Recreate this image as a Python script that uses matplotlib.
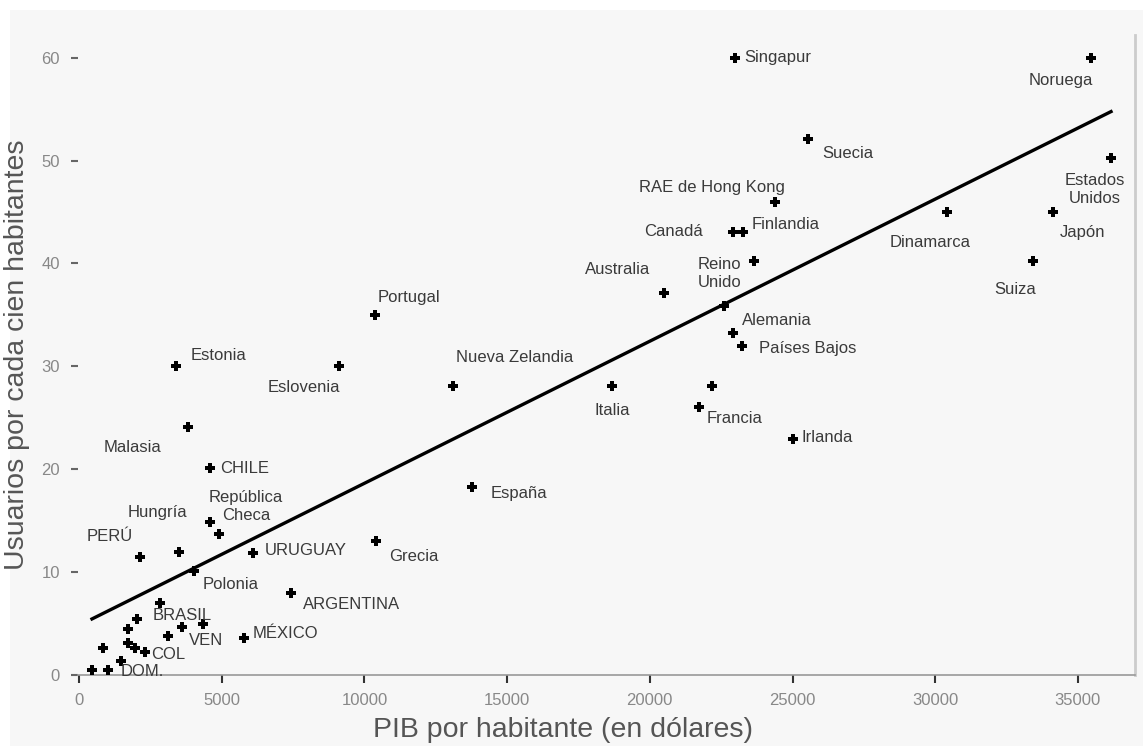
import matplotlib
matplotlib.use("Agg")
import matplotlib.pyplot as plt
from matplotlib.patches import Rectangle
import numpy as np

# ---------------------------------------------------------------------------
# data
# ---------------------------------------------------------------------------
countries = [
    "Singapur", "Noruega", "Suecia", "Estados\nUnidos", "RAE de Hong Kong",
    "Canadá", "Finlandia", "Reino\nUnido", "Australia", "Alemania", "",
    "Países Bajos", "Dinamarca", "Japón", "Suiza", "Portugal", "Estonia",
    "Eslovenia", "Nueva Zelandia", "Italia", "", "Francia", "Irlanda",
    "Malasia", "CHILE", "España", "República\nCheca", "", "Hungría", "PERÚ",
    "URUGUAY", "Grecia", "Polonia", "ARGENTINA", "BRASIL", "", "", "VEN", "",
    "", "MÉXICO", "", "", "", "COL", "", "", "DOM.",
]
gdp = [
    22985, 35460, 25540, 36160, 24390,
    22915, 23265, 23650, 20500, 22600, 22915,
    23230, 30410, 34130, 33430, 10370, 3400,
    9110, 13100, 18680, 22180, 21720, 25020,
    3820, 4590, 13770, 4590, 4905, 3500, 2140,
    6100, 10400, 4030, 7430, 2840, 2030, 1720, 3610, 4345,
    3120, 5780, 840, 1720, 1960, 2310, 1470, 455, 1015,
]
users = [
    60.0, 60.0, 52.1, 50.2, 46.0,
    43.1, 43.1, 40.2, 37.1, 35.9, 33.2,
    32.0, 45.0, 45.0, 40.2, 35.0, 30.0,
    30.0, 28.1, 28.1, 28.1, 26.0, 22.9,
    24.1, 20.1, 18.3, 14.9, 13.7, 12.0, 11.5,
    11.9, 13.0, 10.1, 8.0, 7.0, 5.4, 4.5, 4.7, 5.0,
    3.8, 3.6, 2.6, 3.1, 2.6, 2.2, 1.4, 0.5, 0.5,
]

# least-squares line as printed on the chart
fit_intercept = 4.82
fit_slope = 0.001381

x_ticks = [0, 5000, 10000, 15000, 20000, 25000, 30000, 35000]
y_ticks = [0, 10, 20, 30, 40, 50, 60]

# label placement: offset from the marker in pixels, horizontal alignment
label_layout = {
    "Singapur": (9, 0, "left"),
    "Noruega": (-30, -23, "center"),
    "Suecia": (14, -15, "left"),
    "Estados\nUnidos": (-16, -31, "center"),
    "RAE de Hong Kong": (10, 14, "right"),
    "Canadá": (-30, 0, "right"),
    "Finlandia": (9, 7, "left"),
    "Reino\nUnido": (-56, -12, "left"),
    "Australia": (-14, 24, "right"),
    "Alemania": (18, -15, "left"),
    "Países Bajos": (17, -3, "left"),
    "Dinamarca": (-17, -31, "center"),
    "Japón": (7, -21, "left"),
    "Suiza": (-18, -28, "center"),
    "Portugal": (3, 17, "left"),
    "Estonia": (15, 11, "left"),
    "Eslovenia": (-35, -21, "center"),
    "Nueva Zelandia": (3, 28, "left"),
    "Italia": (0, -25, "center"),
    "Francia": (8, -11, "left"),
    "Irlanda": (8, 2, "left"),
    "Malasia": (-56, -20, "center"),
    "CHILE": (10, 0, "left"),
    "España": (19, -7, "left"),
    "República\nCheca": (36, 15, "center"),
    "Hungría": (-21, 39, "center"),
    "PERÚ": (-30, 20, "center"),
    "URUGUAY": (12, 2, "left"),
    "Grecia": (13, -15, "left"),
    "Polonia": (9, -13, "left"),
    "ARGENTINA": (12, -12, "left"),
    "BRASIL": (-7, -13, "left"),
    "VEN": (7, -14, "left"),
    "MÉXICO": (9, 4, "left"),
    "COL": (6, -2, "left"),
    "DOM.": (13, -2, "left"),
}

plt.rcParams["font.family"] = ["Liberation Sans", "DejaVu Sans"]

W, H = 1143, 746
fig = plt.figure(figsize=(W / 100, H / 100), dpi=100, facecolor="white")
# light grey panel behind everything, leaving a thin white margin top/left
fig.patches.append(Rectangle((10 / W, 0), 1 - 10 / W, 1 - 10 / H,
                             transform=fig.transFigure, facecolor="#f7f7f7",
                             edgecolor="none", zorder=-10))

ax = fig.add_axes([78 / W, (H - 675) / H, (1135 - 78) / W, (675 - 35) / H])
ax.set_facecolor("none")
ax.set_zorder(5)

# regression line across the observed range
xs = np.array([min(gdp), max(gdp)])
ax.plot(xs, fit_intercept + fit_slope * xs, color="black", lw=2.4, zorder=2)

ax.scatter(gdp, users, marker="P", s=52, color="black", linewidths=0, zorder=3)

for name, x, y in zip(countries, gdp, users):
    if not name:
        continue
    dx, dy, ha = label_layout[name]
    ax.annotate(name, (x, y), xytext=(dx, dy), textcoords="offset pixels",
                ha=ha, va="center", multialignment=ha if ha != "right" else "left",
                fontsize=12, color="#3a3a3a", linespacing=1.25, zorder=4)

ax.set_xlim(-35, 37000)
ax.set_ylim(0, 62.2)
ax.set_xticks(x_ticks)
ax.set_yticks(y_ticks)
ax.tick_params(axis="x", direction="out", length=6, width=1.5, color="#333333",
               labelsize=12, labelcolor="#888888", pad=7)
ax.tick_params(axis="y", direction="out", length=5, width=1.5, color="#666666",
               labelsize=12, labelcolor="#888888", pad=8)

for side in ("top", "left"):
    ax.spines[side].set_visible(False)
ax.spines["bottom"].set_color("#999999")
ax.spines["bottom"].set_linewidth(1.2)
ax.spines["right"].set_color("#cccccc")
ax.spines["right"].set_linewidth(2)

ax.set_xlabel("PIB por habitante (en dólares)", fontsize=20.5, color="#555555")
ax.xaxis.set_label_coords(0.459, -0.065)
ax.set_ylabel("Usuarios por cada cien habitantes", fontsize=20.5, color="#555555",
              labelpad=8)

fig.savefig("out.png", dpi=100, facecolor=fig.get_facecolor())
